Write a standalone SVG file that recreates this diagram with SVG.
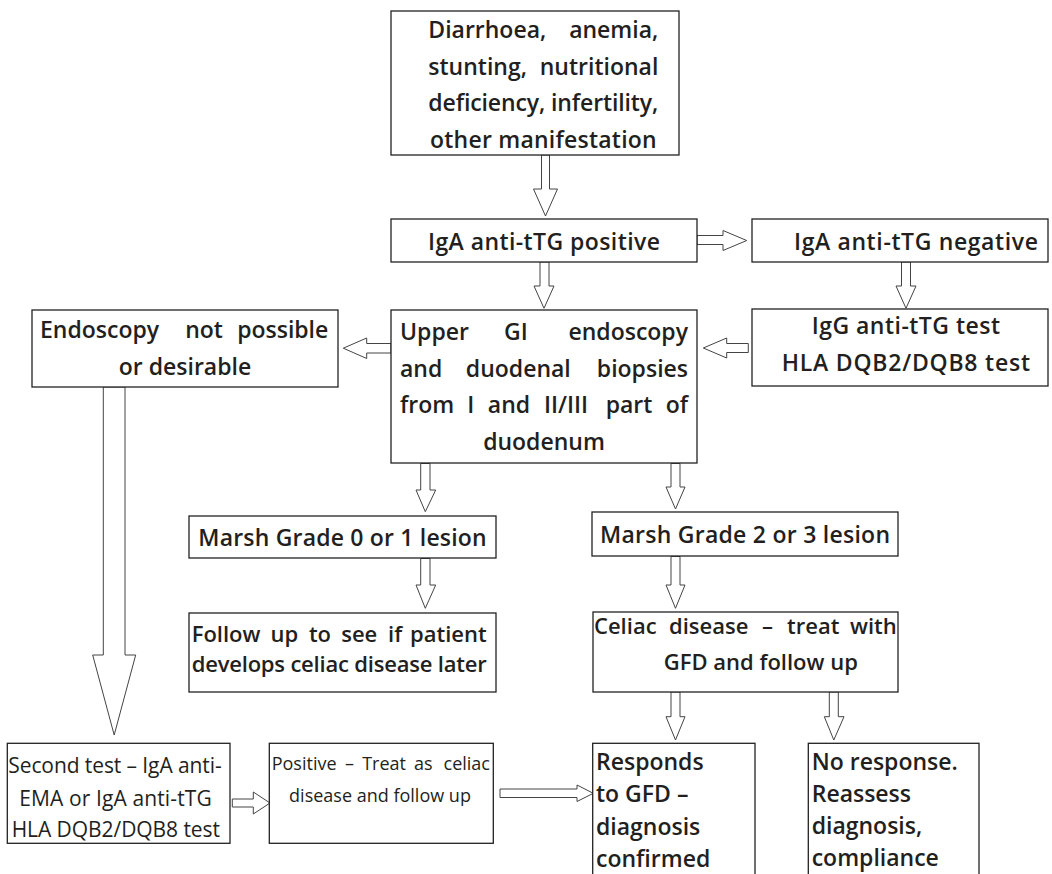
<svg xmlns="http://www.w3.org/2000/svg" width="1052" height="874" viewBox="0 0 1052 874">
<style>
.box{fill:#fff;stroke:#222;stroke-width:1.3}
.arr{fill:#fff;stroke:#444;stroke-width:1}
.t{font-family:"Open Sans","Noto Sans",sans-serif;font-weight:600;font-size:23px;fill:#231f20}
.r{font-weight:400}
.s{font-size:21px}
.xs{font-size:18px}
.n{font-size:22px}
.m{text-anchor:middle}
.e{text-anchor:end}
</style>
<rect width="1052" height="874" fill="#fff"/>
<g id="connectors">
<polygon class="arr" points="541.5,155 549.5,155 549.5,189 557.5,189 545.5,216 533.5,189 541.5,189"/>
<polygon class="arr" points="540,262 549,262 549,286 554,286 544,308.3 534,286 540,286"/>
<polygon class="arr" points="697,235.5 723,235.5 723,230.5 746.7,240.5 723,250.5 723,244.5 697,244.5"/>
<polygon class="arr" points="901.5,262 910.5,262 910.5,286 916,286 906,308.3 896,286 901.5,286"/>
<polygon class="arr" points="748.3,343.5 726.7,343.5 726.7,338 703.3,348 726.7,358 726.7,352.5 748.3,352.5"/>
<polygon class="arr" points="391,343.5 366.7,343.5 366.7,338 343.3,348.2 366.7,358.5 366.7,353 391,353"/>
<polygon class="arr" points="103.3,387 125,387 125,655 135.7,655 114.2,735 92.7,655 103.3,655"/>
<polygon class="arr" points="232.3,799 253.3,799 253.3,792 270,803 253.3,814 253.3,807 232.3,807"/>
<polygon class="arr" points="500,789 577,789 577,785 593.3,793.3 577,801.5 577,797.5 500,797.5"/>
<polygon class="arr" points="420.7,463.5 430,463.5 430,490 435.7,490 425.3,511.7 416,490 420.7,490"/>
<polygon class="arr" points="420.7,558.5 430,558.5 430,585 435.7,585 425.3,608.3 416,585 420.7,585"/>
<polygon class="arr" points="671,463.5 680,463.5 680,487 685,487 675.5,509 666,487 671,487"/>
<polygon class="arr" points="671,556.5 680,556.5 680,585 685,585 675.5,608.3 666,585 671,585"/>
<polygon class="arr" points="671,692 680,692 680,716.7 685,716.7 675.5,740 666,716.7 671,716.7"/>
<polygon class="arr" points="829.3,692 838.3,692 838.3,716.7 844,716.7 833.8,740 824.3,716.7 829.3,716.7"/>
</g>
<g id="symptoms">
<rect class="box" x="391" y="11" width="288" height="144"/>
<text class="t" y="38"><tspan x="428.3">Diarrhoea,</tspan><tspan class="e" x="658.3">anemia,</tspan></text>
<text class="t" y="75"><tspan x="428.3">stunting,</tspan><tspan class="e" x="658.3">nutritional</tspan></text>
<text class="t" x="428.3" y="111" textLength="230" lengthAdjust="spacing">deficiency, infertility,</text>
<text class="t" x="430" y="148" textLength="226.7" lengthAdjust="spacing">other manifestation</text>
</g>
<g id="iga-pos">
<rect class="box" x="391" y="219" width="306" height="43"/>
<text class="t" x="428" y="250" textLength="232" lengthAdjust="spacing">IgA anti-tTG positive</text>
</g>
<g id="iga-neg">
<rect class="box" x="752" y="219" width="296" height="43"/>
<text class="t" x="794" y="250" textLength="244" lengthAdjust="spacing">IgA anti-tTG negative</text>
</g>
<g id="igg">
<rect class="box" x="752" y="309" width="296" height="77"/>
<text class="t" x="811.7" y="334" textLength="188.3" lengthAdjust="spacing">IgG anti-tTG test</text>
<text class="t" x="781.7" y="371" textLength="248.3" lengthAdjust="spacing">HLA DQB2/DQB8 test</text>
</g>
<g id="endoscopy">
<rect class="box" x="391" y="310" width="306" height="153"/>
<text class="t" y="340"><tspan x="400">Upper</tspan><tspan class="m" x="515.8">GI</tspan><tspan class="e" x="688">endoscopy</tspan></text>
<text class="t" y="377"><tspan x="400">and</tspan><tspan class="m" x="518.3">duodenal</tspan><tspan class="e" x="688">biopsies</tspan></text>
<text class="t" y="413"><tspan x="400">from</tspan><tspan class="m" x="470.8">I</tspan><tspan class="m" x="509">and</tspan><tspan class="m" x="566">II/III</tspan><tspan class="m" x="629">part</tspan><tspan class="e" x="688">of</tspan></text>
<text class="t m" x="544" y="450">duodenum</text>
</g>
<g id="not-possible">
<rect class="box" x="32" y="310" width="306" height="77"/>
<text class="t" y="338"><tspan x="40">Endoscopy</tspan><tspan class="m" x="204">not</tspan><tspan class="e" x="328.3">possible</tspan></text>
<text class="t m" x="185" y="375">or desirable</text>
</g>
<g id="marsh01">
<rect class="box" x="189" y="516" width="307" height="42"/>
<text class="t" x="198.3" y="546" textLength="288.4" lengthAdjust="spacing">Marsh Grade 0 or 1 lesion</text>
</g>
<g id="marsh23">
<rect class="box" x="592" y="512" width="306" height="44"/>
<text class="t" x="600" y="543" textLength="290" lengthAdjust="spacing">Marsh Grade 2 or 3 lesion</text>
</g>
<g id="follow">
<rect class="box" x="189" y="613" width="307" height="79"/>
<text class="t n" y="642"><tspan x="191.7">Follow</tspan><tspan x="270.5">up</tspan><tspan x="308.9">to</tspan><tspan x="341.2">see</tspan><tspan x="388">if</tspan><tspan class="e" x="486.7">patient</tspan></text>
<text class="t n" x="191.7" y="672" textLength="295" lengthAdjust="spacing">develops celiac disease later</text>
</g>
<g id="celiac">
<rect class="box" x="593" y="612" width="305" height="80"/>
<text class="t n" y="634"><tspan x="594">Celiac</tspan><tspan x="669">disease</tspan><tspan x="762">–</tspan><tspan x="787.1">treat</tspan><tspan class="e" x="896.7">with</tspan></text>
<text class="t n m" x="760.8" y="670">GFD and follow up</text>
</g>
<g id="second-test">
<rect class="box" x="7.3" y="743.3" width="222.7" height="100"/>
<text class="t r s" x="8.3" y="773" textLength="213.4" lengthAdjust="spacing">Second test – IgA anti-</text>
<text class="t r s" x="19.3" y="806" textLength="192.4" lengthAdjust="spacing">EMA or IgA anti-tTG</text>
<text class="t r s" x="11.7" y="837" textLength="208.3" lengthAdjust="spacing">HLA DQB2/DQB8 test</text>
</g>
<g id="positive">
<rect class="box" x="269.3" y="743.3" width="224" height="100"/>
<text class="t r xs" y="770"><tspan x="271.7">Positive</tspan><tspan x="345">–</tspan><tspan x="362.2">Treat</tspan><tspan x="414.1">as</tspan><tspan class="e" x="490">celiac</tspan></text>
<text class="t r xs m" x="380" y="802">disease and follow up</text>
</g>
<g id="responds">
<rect class="box" x="592.7" y="743.3" width="162.3" height="160"/>
<text class="t" x="596" y="770">Responds</text>
<text class="t" x="596" y="802">to GFD –</text>
<text class="t" x="596" y="835">diagnosis</text>
<text class="t" x="596" y="867">confirmed</text>
</g>
<g id="no-response">
<rect class="box" x="808.3" y="743.3" width="170.7" height="160"/>
<text class="t" x="811.7" y="770">No response.</text>
<text class="t" x="811.7" y="802">Reassess</text>
<text class="t" x="811.7" y="834">diagnosis,</text>
<text class="t" x="811.7" y="866">compliance</text>
</g>
</svg>
